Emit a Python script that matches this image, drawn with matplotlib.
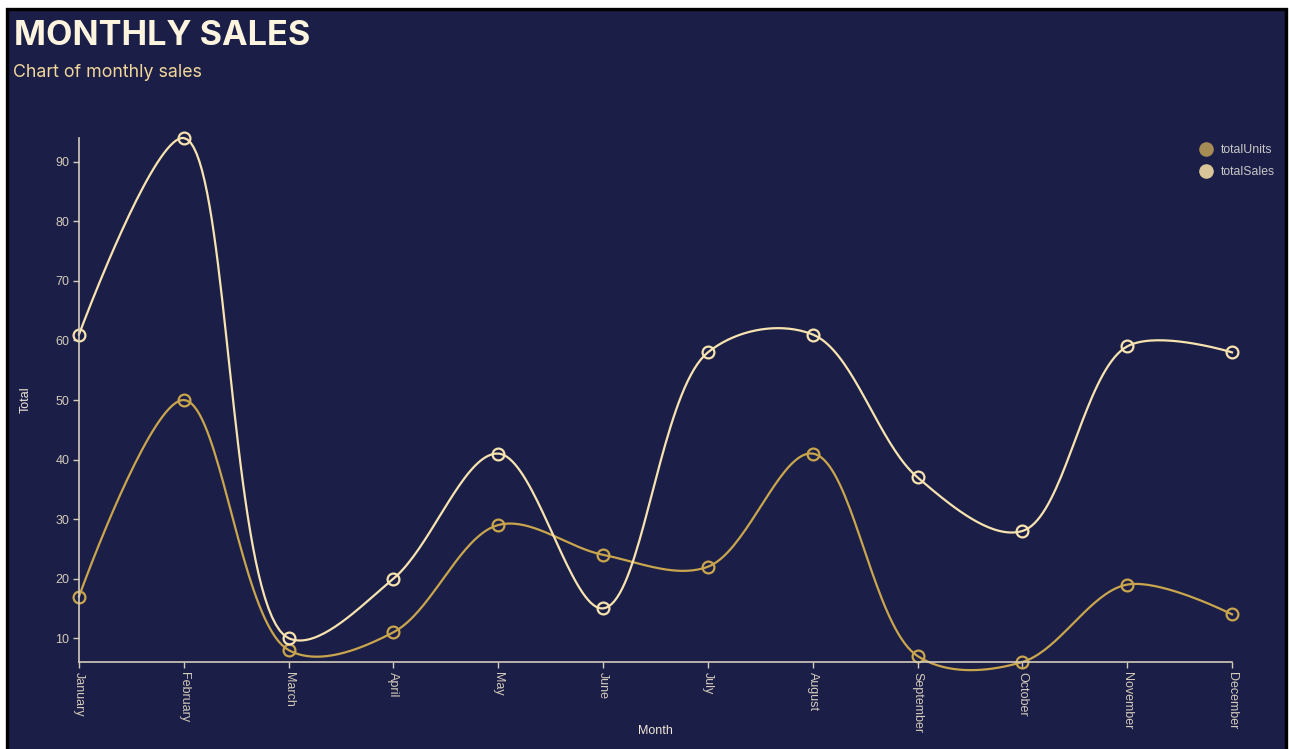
import numpy as np
import matplotlib
matplotlib.use("Agg")
import matplotlib.pyplot as plt
from matplotlib.patches import Rectangle
from matplotlib.lines import Line2D

months = ["January", "February", "March", "April", "May", "June", "July",
          "August", "September", "October", "November", "December"]
total_units = [17, 50, 8, 11, 29, 24, 22, 41, 7, 6, 19, 14]
total_sales = [61, 94, 10, 20, 41, 15, 58, 61, 37, 28, 59, 58]
y_ticks = [10, 20, 30, 40, 50, 60, 70, 80, 90]

bg = "#1b1e47"
units_col = "#c9a64e"
sales_col = "#f6e3b0"
axis_col = "#d4ccbb"
text_col = "#f0e8d8"


def catmull_rom(ax, xs, ys, alpha=0.5, n=40):
    # centripetal catmull-rom done in screen space, like d3.curveCatmullRom
    pts = ax.transData.transform(np.column_stack([xs, ys]))
    out = [pts[0]]
    t = np.linspace(0, 1, n)[1:, None]
    for i in range(len(pts) - 1):
        p1, p2 = pts[i], pts[i + 1]
        d12 = np.hypot(*(p2 - p1))
        l12a, l12_2a = d12 ** alpha, d12 ** (2 * alpha)
        c1, c2 = p1.copy(), p2.copy()
        if i > 0:
            p0 = pts[i - 1]
            d01 = np.hypot(*(p1 - p0))
            l01a, l01_2a = d01 ** alpha, d01 ** (2 * alpha)
            a = 2 * l01_2a + 3 * l01a * l12a + l12_2a
            nn = 3 * l01a * (l01a + l12a)
            c1 = (p1 * a - p0 * l12_2a + p2 * l01_2a) / nn
        if i + 2 < len(pts):
            p3 = pts[i + 2]
            d23 = np.hypot(*(p3 - p2))
            l23a, l23_2a = d23 ** alpha, d23 ** (2 * alpha)
            b = 2 * l23_2a + 3 * l23a * l12a + l12_2a
            m = 3 * l23a * (l23a + l12a)
            c2 = (p2 * b + p1 * l23_2a - p3 * l12_2a) / m
        seg = ((1 - t) ** 3 * p1 + 3 * (1 - t) ** 2 * t * c1
               + 3 * (1 - t) * t ** 2 * c2 + t ** 3 * p2)
        out.extend(seg)
    out = ax.transData.inverted().transform(np.array(out))
    return out[:, 0], out[:, 1]


fig = plt.figure(figsize=(12.9, 7.49), dpi=100, facecolor="white")
fig.patches.append(Rectangle((7 / 1290, -0.02), 1279 / 1290, 1.02 - 9 / 749,
                             transform=fig.transFigure, facecolor=bg,
                             edgecolor="black", linewidth=2.4, zorder=-10))

ax = fig.add_axes([79 / 1290, 1 - 662 / 749, 1153 / 1290, 524 / 749])
ax.set_facecolor("none")
x = np.arange(len(months))
ax.set_xlim(0, len(months) - 1)
ax.set_ylim(min(total_units + total_sales), max(total_units + total_sales))

for vals, col in [(total_units, units_col), (total_sales, sales_col)]:
    cx, cy = catmull_rom(ax, x, vals)
    ax.plot(cx, cy, color=col, lw=1.6, clip_on=False)
    ax.plot(x, vals, "o", ms=8.5, mfc="none", mec=col, mew=1.6, clip_on=False)

ax.set_xticks(x)
ax.set_xticklabels(months, rotation=-90, fontsize=9, color=text_col,
                   family="Liberation Sans")
ax.set_yticks(y_ticks)
ax.set_yticklabels([str(v) for v in y_ticks], fontsize=9, color=text_col,
                   family="Liberation Sans")
ax.tick_params(colors=axis_col, length=4.5, width=1, pad=2.5)
for s in ["top", "right"]:
    ax.spines[s].set_visible(False)
for s in ["left", "bottom"]:
    ax.spines[s].set_color(axis_col)
    ax.spines[s].set_linewidth(1.2)

ax.set_xlabel("Month", fontsize=9, color=text_col, family="Liberation Sans")
ax.set_ylabel("Total", fontsize=9, color=text_col, family="Liberation Sans")
ax.xaxis.set_label_coords(0.5, -0.12)
ax.yaxis.set_label_coords(-0.041, 0.5)

fig.text(14 / 1290, 1 - 45 / 749, "MONTHLY SALES", fontsize=24.7, fontweight="bold",
         color="#fdf4e0", family="Inter")
fig.text(13 / 1290, 1 - 77 / 749, "Chart of monthly sales", fontsize=12.8,
         color="#f2d79a", family="Inter")

handles = [Line2D([], [], ls="none", marker="o", ms=9.5, color="#a68c55"),
           Line2D([], [], ls="none", marker="o", ms=9.5, color="#d9c597")]
fig.legend(handles, ["totalUnits", "totalSales"], loc="upper right",
           bbox_to_anchor=(1286 / 1290, 1 - 133 / 749), frameon=False,
           labelcolor="#c8c8c8", handlelength=0.9,
           handletextpad=0.8, labelspacing=0.85,
           prop={"family": "Liberation Sans", "size": 8.8})

fig.savefig("out.png", dpi=100, facecolor="white")
